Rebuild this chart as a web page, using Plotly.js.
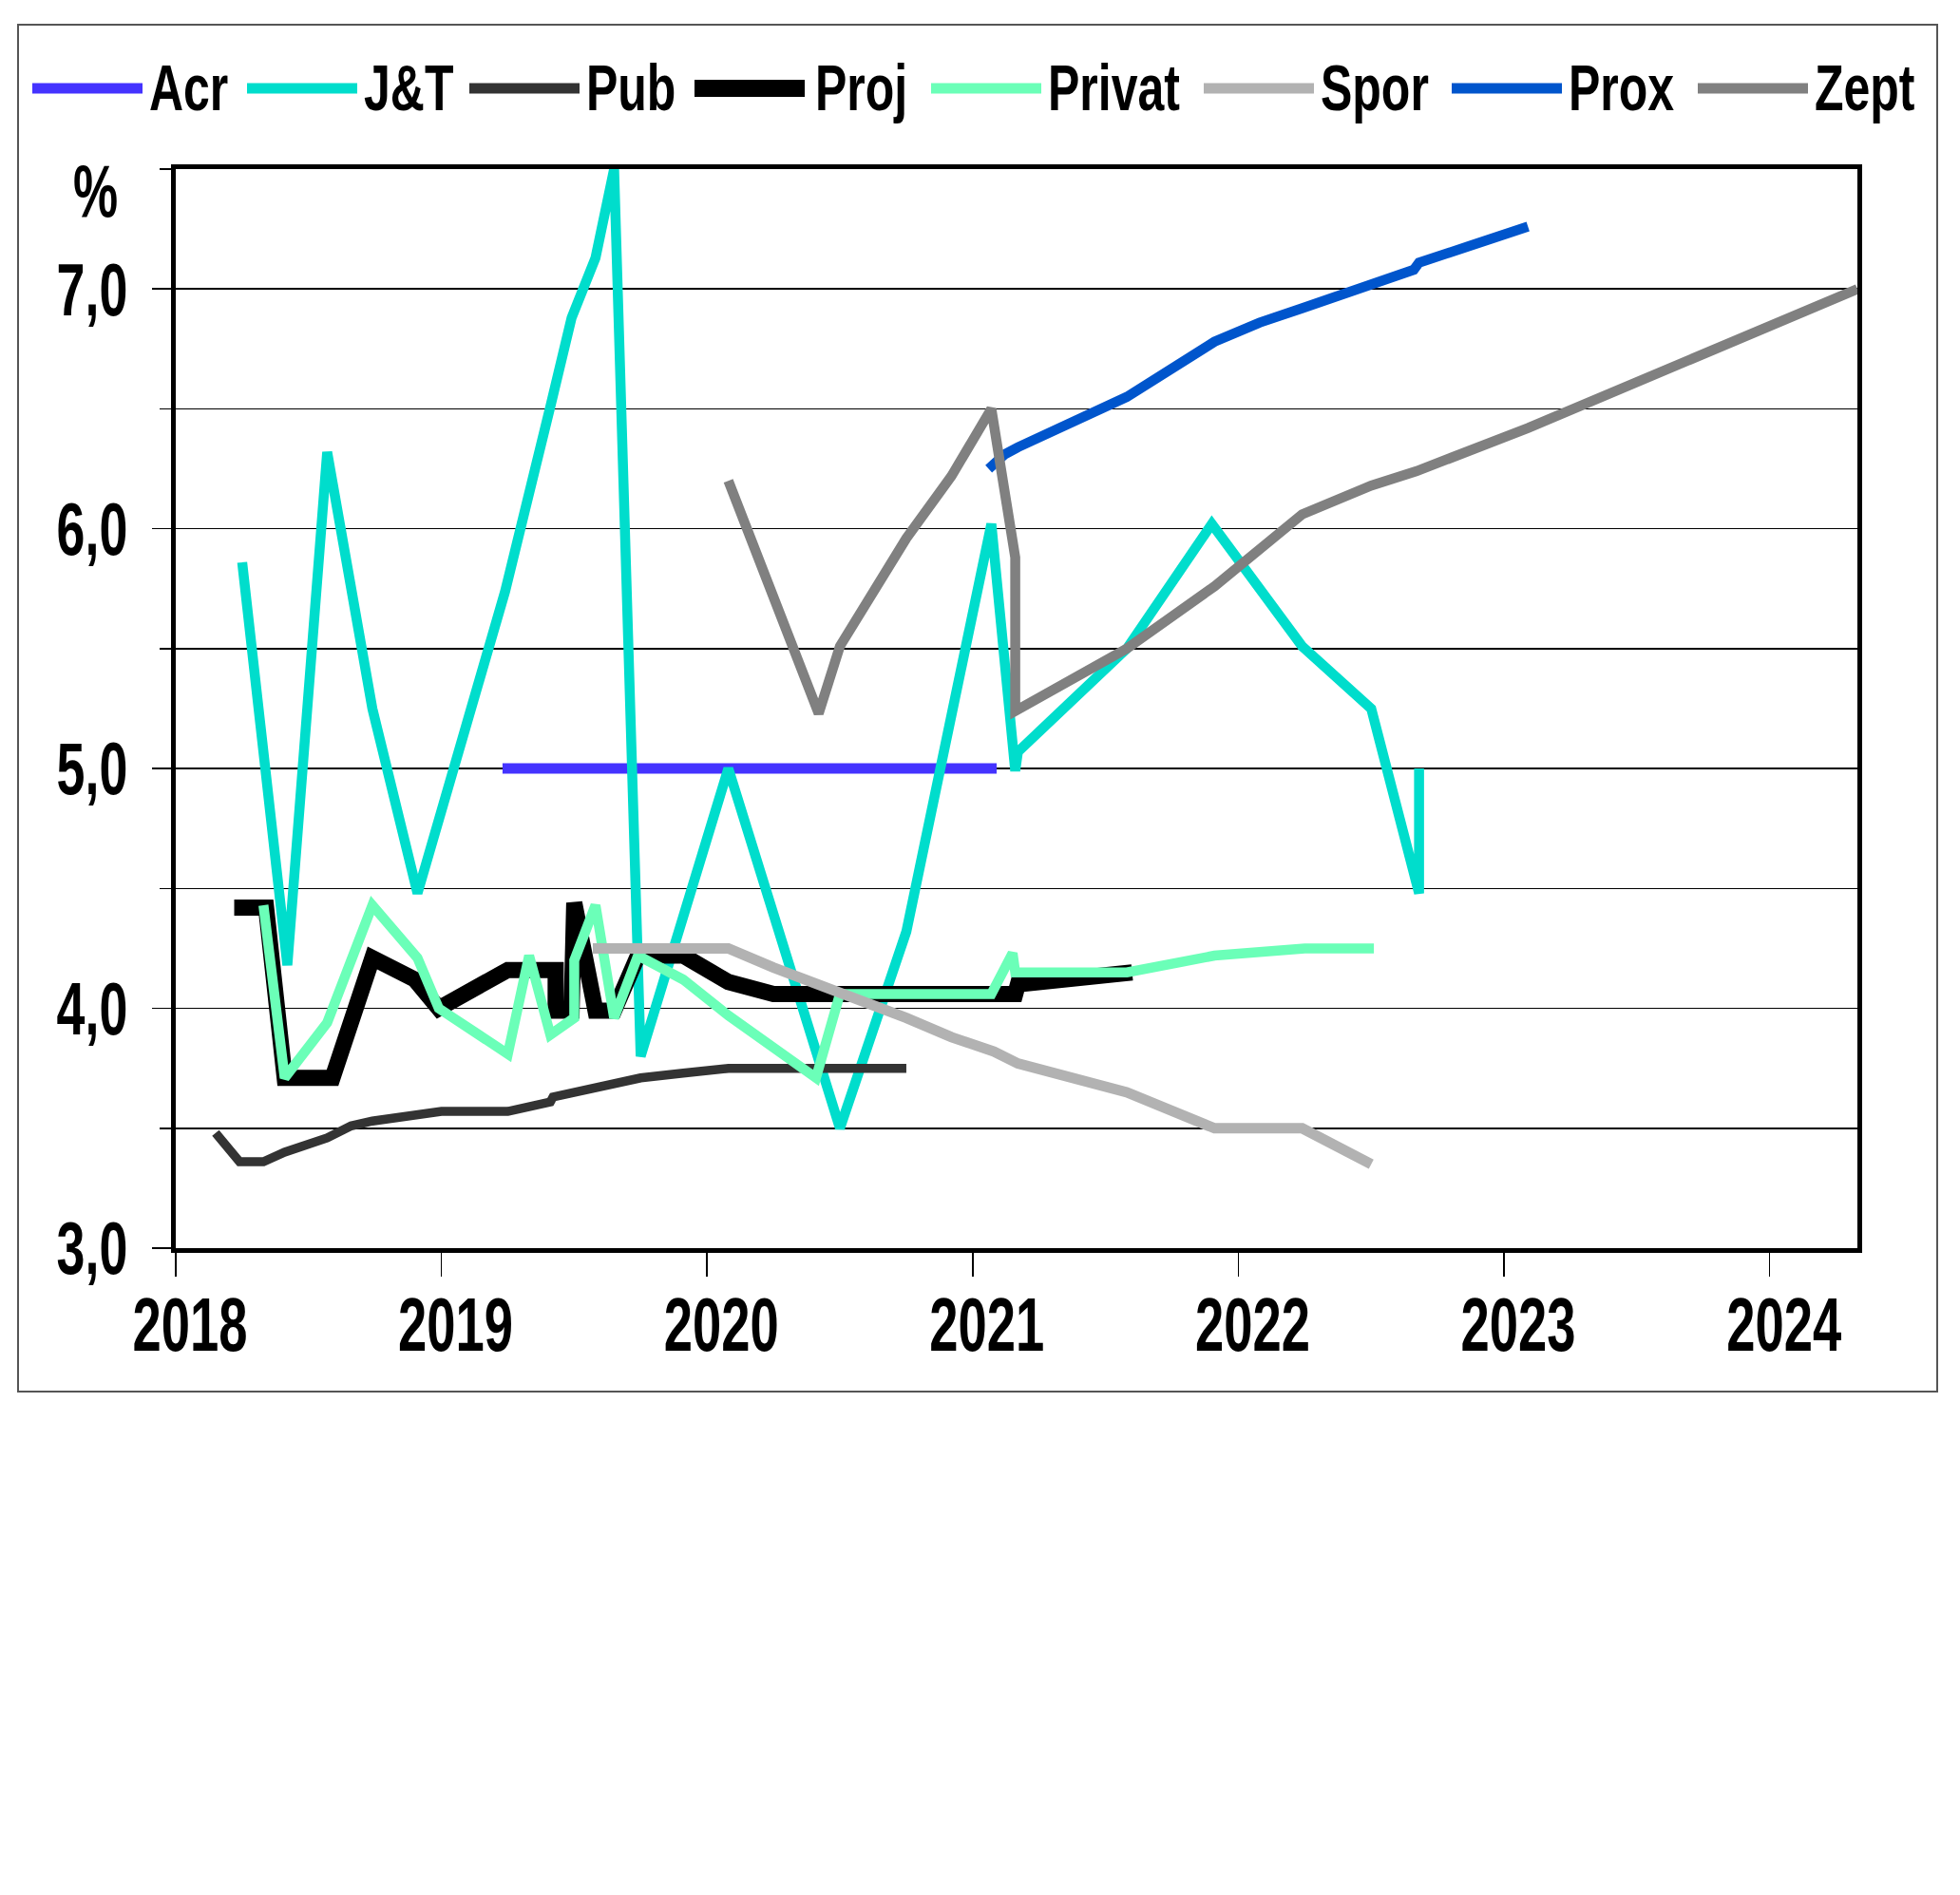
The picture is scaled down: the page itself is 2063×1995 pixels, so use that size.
<!DOCTYPE html>
<html>
<head>
<meta charset="utf-8">
<script src="https://cdn.plot.ly/plotly-3.0.1.min.js"></script>
<style>body{margin:0;padding:0;background:#fff;overflow:hidden;}#chart{width:2063px;height:1995px;}</style>
</head>
<body>
<div id="chart"></div>
<script>
// ---- data (x = year as decimal, y = %) ----
const seriesNames = ["Acr", "J&T", "Pub", "Proj", "Privat", "Spor", "Prox", "Zept"];

const acrX = [2019.23, 2021.09];
const acrY = [5.0, 5.0];

const jtX = [2018.25, 2018.42, 2018.57, 2018.74, 2018.91, 2019.24, 2019.41, 2019.49, 2019.58, 2019.65, 2019.75, 2020.08, 2020.5, 2020.75, 2021.07, 2021.16, 2021.17, 2021.58, 2021.9, 2022.24, 2022.5, 2022.68, 2022.68];
const jtY = [5.86, 4.18, 6.32, 5.25, 4.48, 5.74, 6.51, 6.88, 7.13, 7.5, 3.8, 5.0, 3.5, 4.32, 6.02, 4.99, 5.07, 5.5, 6.02, 5.51, 5.25, 4.48, 5.0];

const pubX = [2018.15, 2018.24, 2018.33, 2018.41, 2018.57, 2018.66, 2018.74, 2018.91, 2019.0, 2019.25, 2019.41, 2019.42, 2019.58, 2019.75, 2019.91, 2020.08, 2020.75];
const pubY = [3.48, 3.36, 3.36, 3.4, 3.46, 3.51, 3.53, 3.55, 3.57, 3.57, 3.61, 3.63, 3.67, 3.71, 3.73, 3.75, 3.75];

const projX = [2018.22, 2018.34, 2018.41, 2018.59, 2018.74, 2018.9, 2018.99, 2019.25, 2019.43, 2019.43, 2019.49, 2019.5, 2019.58, 2019.65, 2019.74, 2019.91, 2020.08, 2020.25, 2021.16, 2021.17, 2021.6];
const projY = [4.42, 4.42, 3.71, 3.71, 4.21, 4.12, 4.0, 4.16, 4.16, 3.99, 3.99, 4.44, 3.99, 3.99, 4.22, 4.22, 4.11, 4.06, 4.06, 4.1, 4.15];

const privatX = [2018.33, 2018.41, 2018.57, 2018.74, 2018.91, 2018.99, 2019.25, 2019.33, 2019.41, 2019.5, 2019.5, 2019.58, 2019.65, 2019.74, 2019.91, 2020.08, 2020.41, 2020.5, 2021.07, 2021.15, 2021.16, 2021.58, 2021.91, 2022.25, 2022.51];
const privatY = [4.43, 3.71, 3.94, 4.43, 4.21, 4.0, 3.81, 4.22, 3.89, 3.96, 4.2, 4.43, 3.96, 4.22, 4.12, 3.97, 3.71, 4.06, 4.06, 4.23, 4.15, 4.15, 4.22, 4.25, 4.25];

const sporX = [2019.57, 2020.08, 2020.25, 2020.5, 2020.75, 2020.92, 2021.08, 2021.17, 2021.58, 2021.91, 2022.24, 2022.5];
const sporY = [4.25, 4.25, 4.17, 4.07, 3.96, 3.88, 3.82, 3.77, 3.65, 3.5, 3.5, 3.35];

const proxX = [2021.06, 2021.12, 2021.17, 2021.58, 2021.91, 2022.08, 2022.24, 2022.5, 2022.66, 2022.68, 2023.09];
const proxY = [6.25, 6.31, 6.34, 6.55, 6.78, 6.86, 6.92, 7.02, 7.08, 7.11, 7.26];

const zeptX = [2020.08, 2020.42, 2020.5, 2020.75, 2020.92, 2021.07, 2021.16, 2021.16, 2021.58, 2021.91, 2022.24, 2022.5, 2022.67, 2023.09, 2024.33];
const zeptY = [6.2, 5.23, 5.51, 5.96, 6.22, 6.5, 5.88, 5.24, 5.5, 5.76, 6.06, 6.18, 6.24, 6.42, 7.0];

const xTickVals = [2018, 2019, 2020, 2021, 2022, 2023, 2024];
const xTickText = ["2018", "2019", "2020", "2021", "2022", "2023", "2024"];
const yTickVals = [3, 4, 5, 6, 7];
const yTickText = ["3,0", "4,0", "5,0", "6,0", "7,0"];
const yMinorVals = [3.5, 4.5, 5.5, 6.5, 7.5];
const unitLabel = "%";

// ---- styles / layout constants ----
const colors = ["#4433ff", "#00ddcc", "#333333", "#000000", "#6bffb8", "#b2b2b2", "#0055cc", "#808080"];
const widths = [11, 10.5, 9.5, 17, 10.5, 11, 10.5, 10.5];
const legendLineLeftPx = [34, 260, 494, 731, 980, 1267, 1528, 1787];
const FONT = "'Liberation Sans', Arial, sans-serif";

const xs = [acrX, jtX, pubX, projX, privatX, sporX, proxX, zeptX];
const ys = [acrY, jtY, pubY, projY, privatY, sporY, proxY, zeptY];

const traces = seriesNames.map((n, i) => ({
  type: "scatter",
  mode: "lines",
  name: n,
  x: xs[i],
  y: ys[i],
  line: {color: colors[i], width: widths[i]},
  showlegend: false,
  hoverinfo: "x+y+name"
}));

const W = 2063, H = 1995;
const L = 185, T = 178, R = W - 1955, B = H - 1314;
const PW = W - L - R, PH = H - T - B;
const px2x = p => (p - L) / PW;
const py2y = p => (H - B - p) / PH;

const shapes = [{
  type: "rect",
  xref: "paper", yref: "paper",
  x0: px2x(19), x1: px2x(2039),
  y0: py2y(1465), y1: py2y(26),
  line: {color: "#555555", width: 2},
  fillcolor: "rgba(0,0,0,0)",
  layer: "below"
}];
const annotations = [{
  text: unitLabel,
  xref: "paper", yref: "paper",
  x: px2x(100), y: py2y(201),
  xanchor: "center", yanchor: "middle",
  showarrow: false,
  font: {family: FONT, size: 78, color: "#000000", weight: "bold"}
}];
const legendY = py2y(93);
seriesNames.forEach((n, i) => {
  const x0 = legendLineLeftPx[i];
  shapes.push({
    type: "line", xref: "paper", yref: "paper",
    x0: px2x(x0), x1: px2x(x0 + 116), y0: legendY, y1: legendY,
    line: {color: colors[i], width: widths[i] > 12 ? 18 : 11}
  });
  annotations.push({
    text: n,
    xref: "paper", yref: "paper",
    x: px2x(x0 + 122 + (widths[i] > 12 ? 4 : 0)), y: py2y(92),
    xanchor: "left", yanchor: "middle",
    showarrow: false,
    borderpad: 0,
    font: {family: FONT, size: 68, color: "#000000", weight: "bold"},
    name: "legend"
  });
});

const layout = {
  width: W,
  height: H,
  margin: {l: L, r: R, t: T, b: B, pad: 0, autoexpand: false},
  paper_bgcolor: "#ffffff",
  plot_bgcolor: "#ffffff",
  font: {family: FONT, color: "#000000", weight: "bold"},
  showlegend: false,
  xaxis: {
    range: [2018, 2024.33],
    tickmode: "array",
    tickvals: xTickVals,
    ticktext: xTickText,
    showgrid: false,
    zeroline: false,
    showline: true,
    linecolor: "#000000",
    linewidth: 5,
    mirror: true,
    ticks: "outside",
    ticklen: 25,
    tickwidth: 1.5,
    tickcolor: "#000000",
    ticklabelshift: 15,
    ticklabelstandoff: -18,
    automargin: false,
    tickfont: {family: FONT, size: 80, color: "#000000", weight: "bold"}
  },
  yaxis: {
    range: [3, 7.5],
    tickmode: "array",
    tickvals: yTickVals,
    ticktext: yTickText,
    showgrid: true,
    gridcolor: "#000000",
    gridwidth: 1.5,
    zeroline: false,
    showline: true,
    linecolor: "#000000",
    linewidth: 5,
    mirror: true,
    ticks: "outside",
    ticklen: 20,
    tickwidth: 1.5,
    tickcolor: "#000000",
    ticklabelstandoff: 10,
    automargin: false,
    tickfont: {family: FONT, size: 78, color: "#000000", weight: "bold"},
    minor: {
      tickmode: "array",
      tickvals: yMinorVals,
      ticks: "outside",
      ticklen: 12,
      tickwidth: 1.5,
      tickcolor: "#000000",
      showgrid: true,
      gridcolor: "#000000",
      gridwidth: 1.5
    }
  },
  annotations: annotations,
  shapes: shapes
};

// narrow the (Arial-metric) bold text horizontally, like a condensed face
function condense(el, sx, anchor) {
  const parent = el.parentNode;
  if (!parent) return;
  const g = document.createElementNS("http://www.w3.org/2000/svg", "g");
  parent.insertBefore(g, el);
  g.appendChild(el);
  const r = el.getBoundingClientRect();
  const ctm = g.getScreenCTM();
  let ax = anchor === "start" ? r.left : anchor === "end" ? r.right : (r.left + r.right) / 2;
  ax = (ax - ctm.e) / ctm.a;
  g.setAttribute("transform", "translate(" + ax + ",0) scale(" + sx + ",1) translate(" + (-ax) + ",0)");
}

Plotly.newPlot("chart", traces, layout, {displayModeBar: false, responsive: false, staticPlot: true}).then(gd => {
  gd.querySelectorAll(".xtick text").forEach(t => condense(t, 0.68, "middle"));
  gd.querySelectorAll(".ytick text").forEach(t => condense(t, 0.69, "end"));
  gd.querySelectorAll("text.annotation-text").forEach(t => {
    const isLegend = seriesNames.indexOf(t.textContent) >= 0;
    condense(t, isLegend ? 0.735 : 0.68, isLegend ? "start" : "middle");
  });
});
</script>
</body>
</html>
